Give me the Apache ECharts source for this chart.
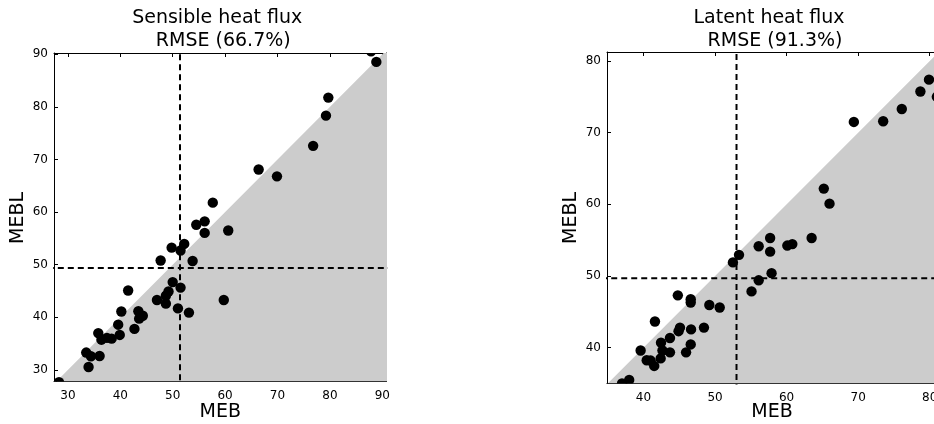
<!DOCTYPE html>
<html>
<head>
<meta charset="utf-8">
<script src="https://cdn.jsdelivr.net/npm/echarts@6/dist/echarts.min.js"></script>
<style>
  html, body { margin: 0; padding: 0; background: #fff; }
  #chart { width: 934px; height: 424px; }
</style>
</head>
<body>
<div id="chart"></div>
<script>
// Sensible heat flux: MEB vs MEBL
const sensibleMEB = [87.85, 88.86, 79.7, 79.25, 76.8, 66.4, 69.9, 57.65, 54.5, 56.1, 56.1, 60.6,
  49.8, 51.5, 52.2, 47.7, 53.8, 50.0, 51.5, 49.2, 48.7, 47.0, 48.7, 41.5, 51.0, 53.1, 59.75,
  40.2, 43.45, 44.3, 43.6, 39.6, 42.7, 39.9, 35.8, 36.4, 37.45, 38.35, 33.5, 34.4, 36.05, 33.95, 28.3];
const sensibleMEBL = [90.57, 88.56, 81.77, 78.35, 72.6, 68.1, 66.8, 61.8, 57.6, 58.25, 56.05, 56.5,
  53.25, 52.7, 53.95, 50.8, 50.7, 46.7, 45.65, 44.9, 44.1, 43.3, 42.6, 45.1, 41.7, 40.9, 43.3,
  41.1, 41.15, 40.3, 39.75, 38.6, 37.8, 36.65, 37.0, 35.75, 36.1, 35.95, 33.3, 32.6, 32.65, 30.55, 27.65];
const sensibleMeanMEB = 51.4;
const sensibleMeanMEBL = 49.4;
const sensibleTicks = [30, 40, 50, 60, 70, 80, 90];

// Latent heat flux: MEB vs MEBL
const latentMEB = [79.9, 78.7, 76.1, 73.5, 69.4, 65.2, 66.0, 57.7, 63.5, 56.1, 57.7, 60.1, 60.8,
  53.35, 52.5, 57.9, 56.1, 55.1, 44.8, 46.6, 46.6, 49.2, 50.65, 41.6, 48.45, 46.65, 45.1, 44.9,
  43.7, 42.45, 46.6, 39.6, 42.65, 43.7, 45.95, 40.45, 41.0, 42.4, 41.5, 38.0, 37.0, 81.0];
const latentMEBL = [77.4, 75.75, 73.3, 71.6, 71.5, 62.2, 60.1, 55.3, 55.3, 54.15, 53.4, 54.25, 54.45,
  52.95, 51.9, 50.4, 49.4, 47.85, 47.3, 46.75, 46.3, 45.95, 45.6, 43.65, 42.8, 42.55, 42.8, 42.3,
  41.35, 40.7, 40.45, 39.6, 39.6, 39.35, 39.35, 38.25, 38.2, 38.5, 37.45, 35.5, 35.0, 75.0];
const latentMeanMEB = 53.0;
const latentMeanMEBL = 49.7;
const latentTicks = [40, 50, 60, 70, 80];

const panels = [
  { title: 'Sensible heat flux', rmse: ' RMSE (66.7%)', x: sensibleMEB, y: sensibleMEBL,
    meanX: sensibleMeanMEB, meanY: sensibleMeanMEBL, ticks: sensibleTicks,
    xRange: [27.35, 90.8], yRange: [27.8, 90.25],
    grid: { left: 54, top: 53, width: 332.5, height: 328.5 } },
  { title: 'Latent heat flux', rmse: ' RMSE (91.3%)', x: latentMEB, y: latentMEBL,
    meanX: latentMeanMEB, meanY: latentMeanMEBL, ticks: latentTicks,
    xRange: [34.9, 81.3], yRange: [35.0, 81.26],
    grid: { left: 607, top: 52, width: 332, height: 331.5 } }
];

const FONT = 'DejaVu Sans';
const grids = [], xAxes = [], yAxes = [], series = [], graphics = [];

panels.forEach((p, i) => {
  grids.push(Object.assign({ containLabel: false, outerBoundsMode: 'none' }, p.grid));
  const lo = Math.min(p.xRange[0], p.yRange[0]) - 5;
  const hi = Math.max(p.xRange[1], p.yRange[1]) + 5;

  const tickCommon = {
    show: true, inside: true, length: 4,
    lineStyle: { color: '#000', width: 1 },
    customValues: p.ticks
  };
  const lineCommon = { show: true, onZero: false, lineStyle: { color: '#000', width: 1 } };

  // bottom / left axes with labels
  xAxes.push({
    type: 'value', gridIndex: i, position: 'bottom', min: p.xRange[0], max: p.xRange[1],
    axisLine: lineCommon, axisTick: tickCommon, splitLine: { show: false },
    axisLabel: { show: true, customValues: p.ticks, color: '#000', fontFamily: FONT, fontSize: 12, margin: 8,
                 showMinLabel: true, showMaxLabel: true }
  });
  yAxes.push({
    type: 'value', gridIndex: i, position: 'left', min: p.yRange[0], max: p.yRange[1],
    axisLine: lineCommon, axisTick: tickCommon, splitLine: { show: false },
    axisLabel: { show: true, customValues: p.ticks, color: '#000', fontFamily: FONT, fontSize: 12, margin: 6,
                 showMinLabel: true, showMaxLabel: true }
  });
  // top / right frame axes carrying inward ticks only
  xAxes.push({
    type: 'value', gridIndex: i, position: 'top', min: p.xRange[0], max: p.xRange[1],
    axisLine: lineCommon, axisTick: tickCommon, splitLine: { show: false }, axisLabel: { show: false }
  });
  yAxes.push({
    type: 'value', gridIndex: i, position: 'right', min: p.yRange[0], max: p.yRange[1],
    axisLine: lineCommon, axisTick: tickCommon, splitLine: { show: false }, axisLabel: { show: false }
  });

  const xi = i * 2, yi = i * 2;

  // shaded region below the 1:1 line
  series.push({
    type: 'line', xAxisIndex: xi, yAxisIndex: yi, data: [[lo, lo], [hi, hi]],
    symbol: 'none', clip: true, silent: true, z: 1,
    lineStyle: { width: 0, color: '#cccccc' },
    areaStyle: { color: '#cccccc', opacity: 1, origin: 'start' }
  });
  // mean lines
  const dash = { color: '#000', width: 2, type: [6, 4] };
  series.push({
    type: 'line', xAxisIndex: xi, yAxisIndex: yi, data: [[p.meanX, lo], [p.meanX, hi]],
    symbol: 'none', clip: true, silent: true, z: 2, lineStyle: dash
  });
  series.push({
    type: 'line', xAxisIndex: xi, yAxisIndex: yi, data: [[lo, p.meanY], [hi, p.meanY]],
    symbol: 'none', clip: true, silent: true, z: 2, lineStyle: dash
  });
  // points
  series.push({
    type: 'custom', xAxisIndex: xi, yAxisIndex: yi, clip: true, z: 3,
    data: p.x.map((v, k) => [v, p.y[k]]),
    encode: { x: 0, y: 1 },
    renderItem: (params, api) => {
      const c = api.coord([api.value(0), api.value(1)]);
      return { type: 'circle', shape: { cx: c[0], cy: c[1], r: 5.2 }, style: { fill: '#000' } };
    }
  });

  const cx = p.grid.left + p.grid.width / 2;
  const gx = i === 0 ? cx : 772;
  const font = `19px "${FONT}"`;
  graphics.push(
    { type: 'text', x: gx - 3, y: 18, style: { text: p.title, font, fill: '#000', align: 'center', verticalAlign: 'middle' } },
    { type: 'text', x: gx, y: 41, style: { text: p.rmse, font, fill: '#000', align: 'center', verticalAlign: 'middle' } },
    { type: 'text', x: gx, y: 412, style: { text: 'MEB', font, fill: '#000', align: 'center', verticalAlign: 'middle' } },
    { type: 'text', x: p.grid.left - 36, y: 218, rotation: Math.PI / 2,
      style: { text: 'MEBL', font, fill: '#000', align: 'center', verticalAlign: 'middle' } }
  );
});

const chart = echarts.init(document.getElementById('chart'), null, { renderer: 'canvas' });
chart.setOption({
  animation: false,
  backgroundColor: '#fff',
  grid: grids,
  xAxis: xAxes,
  yAxis: yAxes,
  series: series,
  graphic: graphics
});
</script>
</body>
</html>
